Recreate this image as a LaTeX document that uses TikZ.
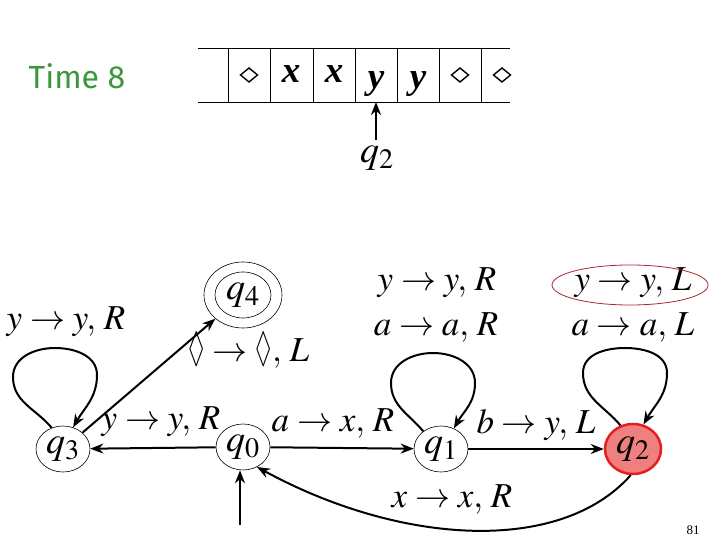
\documentclass[tikz,border=0pt]{standalone}
\usepackage{amsmath}
\usepackage{amssymb}
\usepackage{mathptmx}
\usepackage{fontspec}
\setmainfont{Liberation Serif}
\newfontfamily\timefont{Fira Sans}
\usetikzlibrary{arrows.meta,shapes.geometric}
\definecolor{timegreen}{RGB}{60,150,60}
\definecolor{stfill}{RGB}{240,128,128}
\definecolor{stred}{RGB}{230,30,30}
\definecolor{ovalred}{RGB}{170,40,50}
\newcommand{\lz}{\scalebox{0.7}[1.2]{$\Diamond$}}
\begin{document}
\begin{tikzpicture}[x=1pt,y=1pt,
  state/.style={ellipse,draw,line width=0.6pt,minimum width=54pt,minimum height=46pt,inner sep=0pt,font=\fontsize{38}{42}\selectfont},
  lbl/.style={font=\fontsize{35}{40}\selectfont,inner sep=0pt},
  edge/.style={line width=2pt,-{Stealth[length=13pt,width=10pt]}},
  tapeline/.style={line width=0.8pt},
  tsym/.style={font=\fontsize{37}{40}\selectfont\bfseries\itshape,inner sep=0pt,anchor=base}]
\useasboundingbox (0,0) rectangle (720,540);
% title
\node[text=timegreen,font=\timefont\fontsize{32}{36}\selectfont] (title) at (77,464) {Time 8};
% tape
\draw[tapeline] (198,492) -- (510,492);
\draw[tapeline] (198,438) -- (510,438);
\foreach \xx in {228,270,313,355,397,439,481}{\draw[tapeline] (\xx,492) -- (\xx,438);}
\foreach \xx in {249,460,502}{\draw[line width=1.4pt] (\xx-8.5,465) -- (\xx,472) -- (\xx+8.5,465) -- (\xx,458) -- cycle;}
\node[tsym] (c2) at (291,457) {x};
\node[tsym] (c3) at (334,457) {x};
\node[tsym] (c4) at (376,451) {y};
\node[tsym] (c5) at (418,451) {y};
\node[font=\fontsize{38}{42}\selectfont,inner sep=0pt] (tq) at (377,382) {$q_2$};
\coordinate (head) at (376,438);
\draw[edge] (376,400) -- (head);
% states
\node[state] (q3) at (63,91) {$q_3$};
\node[state] (q0) at (243,93) {$q_0$};
\node[state] (q1) at (441,91) {$q_1$};
\node[state,fill=stfill,draw=stred,line width=2.5pt,minimum width=56pt,minimum height=50pt] (q2) at (633,91) {$q_2$};
\node[state,minimum width=78pt,minimum height=66pt] (q4) at (243,245) {};
\node[state,minimum width=56pt,minimum height=46pt] (q4i) at (243,245) {$q_4$};
% edges
\draw[edge] (q0) -- (q3);
\draw[edge] (q0) -- (q1);
\draw[edge] (q1) -- (q2);
\draw[edge] (q3.40) -- (q4);
\coordinate (init) at (240,15);
\draw[edge] (init) -- (init |- q0.south);
\draw[edge] (q2.-95) .. controls (560,-15) and (400,-5) .. (q0.-55);
% loops
\draw[edge] (q3.118) to[out=130,in=-90] (13,163) to[out=90,in=180] (55,192) to[out=0,in=90] (97,165) to[out=-90,in=60] (q3.65);
\draw[edge] (q1.135) to[out=130,in=-90] (391,157) to[out=90,in=180] (433,187) to[out=0,in=90] (475,157) to[out=-90,in=60] (q1.58);
\draw[edge] (q2.118) to[out=130,in=-90] (583,167) to[out=90,in=180] (625,192) to[out=0,in=90] (667,167) to[out=-90,in=60] (q2.67);
% labels
\node[lbl] (l1) at (66,218) {$y\rightarrow y,\,R$};
\node[lbl] (l2) at (249,190) {$\lz\rightarrow\lz,\,L$};
\node[lbl] (l3) at (161,118) {$y\rightarrow y,\,R$};
\node[lbl] (l4) at (333,116) {$a\rightarrow x,\,R$};
\node[lbl] (l5) at (536,115) {$b\rightarrow y,\,L$};
\node[lbl] (l6) at (437,257) {$y\rightarrow y,\,R$};
\node[lbl] (l7) at (436,212) {$a\rightarrow a,\,R$};
\node[lbl] (l8) at (633,257) {$y\rightarrow y,\,L$};
\node[lbl] (l9) at (633,212) {$a\rightarrow a,\,L$};
\node[lbl] (l10) at (452,40) {$x\rightarrow x,\,R$};
\draw[ovalred,line width=0.8pt] (630,255) ellipse [x radius=78,y radius=20];
\node[font=\fontsize{13}{15}\selectfont] (pg) at (693,10) {81};
\end{tikzpicture}
\end{document}
